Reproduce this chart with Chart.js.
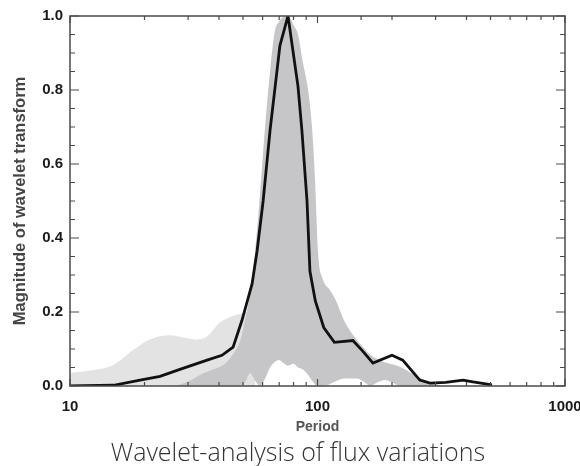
<!DOCTYPE html>
<html>
<head>
<meta charset="utf-8">
<script src="https://cdn.jsdelivr.net/npm/chart.js@4.4.1/dist/chart.umd.min.js"></script>
<style>
  html, body { margin: 0; padding: 0; background: #fff; overflow: hidden; }
  #wrap { position: relative; width: 580px; height: 466px; }
  #title {
    position: absolute; left: 0; top: 439px; width: 596px;
    text-align: center; font-family: "Open Sans", sans-serif; font-weight: 300;
    font-size: 25px; line-height: 25px; color: #333; white-space: nowrap;
  }
</style>
</head>
<body>
<div id="wrap">
  <canvas id="chart" width="580" height="466"></canvas>
  <div id="title">Wavelet-analysis of flux variations</div>
</div>
<script>
// black curve: global wavelet magnitude
const linePeriod = [10, 15, 19.2, 23.1, 27.8, 35.8, 41.1, 45.6, 49.5, 54.4, 57, 60.3, 64.3, 70.5, 76,
  83.4, 86.5, 90.7, 93.2, 98, 106, 117, 139, 152, 167.5, 200, 221, 259, 285, 330, 387, 425, 507];
const lineMagnitude = [0, 0.002, 0.016, 0.026, 0.045, 0.07, 0.083, 0.105, 0.177, 0.276, 0.365, 0.5, 0.69, 0.92, 1.0,
  0.81, 0.69, 0.5, 0.31, 0.23, 0.158, 0.118, 0.123, 0.095, 0.062, 0.083, 0.07, 0.016, 0.008, 0.01, 0.016, 0.011, 0.003];

// dark grey envelope (upper and lower edge)
const bandPeriod = [26.6, 30, 33.5, 38, 42.3, 46, 48.6, 51, 53.4, 55.9, 58.6, 61.4, 64.3, 67.3, 70, 71.9, 76, 80,
  83.4, 87, 91.6, 95, 97.7, 100.5, 105, 112, 117.9, 128.5, 144, 155, 163, 175, 187, 202, 215, 230, 252, 275, 293, 320];
const bandHigh = [0, 0.012, 0.03, 0.045, 0.06, 0.09, 0.12, 0.18, 0.25, 0.36, 0.52, 0.7, 0.85, 0.96, 0.985, 0.995, 1.0, 0.975,
  0.95, 0.88, 0.8, 0.7, 0.56, 0.36, 0.29, 0.26, 0.235, 0.175, 0.125, 0.1, 0.085, 0.072, 0.064, 0.058, 0.052, 0.042, 0.026, 0.014, 0.006, 0];
const bandLow = [0, 0, 0, 0, 0, 0, 0, 0.01, 0.035, 0.015, 0, 0.02, 0.05, 0.065, 0.07, 0.065, 0.055, 0.06,
  0.05, 0.045, 0.03, 0.015, 0.005, 0, 0, 0.005, 0.012, 0.02, 0.02, 0.01, 0, 0.01, 0.016, 0.008, 0, 0, 0, 0, 0, 0];

// light grey hump on the short-period side
const lightPeriod = [10, 12.4, 14.9, 18, 21, 25.4, 28.6, 32.6, 35.8, 40.4, 45.6, 49.5, 52, 55.9];
const lightHigh = [0.035, 0.043, 0.056, 0.097, 0.126, 0.137, 0.131, 0.126, 0.134, 0.172, 0.19, 0.196, 0.2, 0.2];

const xLabels = [10, 100, 1000];
const yLabels = [0, 0.2, 0.4, 0.6, 0.8, 1.0];

const pts = (xs, ys) => xs.map((v, i) => ({ x: v, y: ys[i] }));
const isDecade = v => Math.abs(Math.log10(v) - Math.round(Math.log10(v))) < 1e-6;
const isMajorY = v => yLabels.some(l => Math.abs(l - v) < 1e-6);

// box with inward ticks on all four sides
const frameTicks = {
  id: 'frameTicks',
  afterDatasetsDraw(chart) {
    const { ctx, chartArea: a, scales: { x, y } } = chart;
    ctx.save();
    ctx.strokeStyle = '#4a4a4a';
    ctx.lineWidth = 1.5;
    ctx.strokeRect(a.left, a.top, a.right - a.left, a.bottom - a.top);
    ctx.lineWidth = 1.2;
    ctx.beginPath();
    x.ticks.forEach(t => {
      const px = x.getPixelForValue(t.value);
      const len = isDecade(t.value) ? 7 : 4;
      ctx.moveTo(px, a.bottom); ctx.lineTo(px, a.bottom - len);
      ctx.moveTo(px, a.top); ctx.lineTo(px, a.top + len);
    });
    y.ticks.forEach(t => {
      const py = y.getPixelForValue(t.value);
      const len = isMajorY(t.value) ? 9 : 5;
      ctx.moveTo(a.left, py); ctx.lineTo(a.left + len, py);
      ctx.moveTo(a.right, py); ctx.lineTo(a.right - len, py);
    });
    ctx.stroke();
    ctx.restore();
  }
};

const labelFont = { family: 'Liberation Sans, Arial, sans-serif', size: 15, weight: 'bold' };

new Chart(document.getElementById('chart'), {
  type: 'line',
  data: {
    datasets: [
      {
        label: 'global',
        data: pts(linePeriod, lineMagnitude),
        borderColor: '#111',
        borderWidth: 2.8,
        pointRadius: 0,
        fill: false,
        order: 0
      },
      {
        label: 'band high',
        data: pts(bandPeriod, bandHigh),
        borderWidth: 0,
        borderColor: 'rgba(0,0,0,0)',
        backgroundColor: '#c6c6c8',
        pointRadius: 0,
        cubicInterpolationMode: 'monotone',
        fill: 2,
        order: 1
      },
      {
        label: 'band low',
        data: pts(bandPeriod, bandLow),
        borderWidth: 0,
        borderColor: 'rgba(0,0,0,0)',
        pointRadius: 0,
        cubicInterpolationMode: 'monotone',
        fill: false,
        order: 1
      },
      {
        label: 'light',
        data: pts(lightPeriod, lightHigh),
        borderWidth: 0,
        borderColor: 'rgba(0,0,0,0)',
        backgroundColor: '#e3e3e3',
        pointRadius: 0,
        cubicInterpolationMode: 'monotone',
        fill: 'origin',
        order: 2
      }
    ]
  },
  options: {
    responsive: false,
    animation: false,
    devicePixelRatio: 1,
    layout: { padding: { top: 13, right: 15, left: 0, bottom: 0 } },
    plugins: {
      legend: { display: false },
      tooltip: { enabled: false },
      title: { display: false }
    },
    scales: {
      x: {
        type: 'logarithmic',
        min: 10,
        max: 1000,
        grid: { display: false, drawTicks: false },
        border: { display: false },
        ticks: {
          autoSkip: false,
          maxRotation: 0,
          padding: 12,
          color: '#1a1a1a',
          font: labelFont,
          callback: v => (xLabels.some(l => Math.abs(l - v) < 1e-6) ? String(Math.round(v)) : '')
        },
        title: {
          display: true,
          text: 'Period',
          color: '#555',
          font: { family: 'Liberation Sans, Arial, sans-serif', size: 14, weight: 'bold' },
          padding: { top: 0, bottom: 30 }
        },
        afterFit: s => { s.height = 80; s.paddingRight = 0; s.paddingLeft = 0; }
      },
      y: {
        min: 0,
        max: 1,
        grid: { display: false, drawTicks: false },
        border: { display: false },
        ticks: {
          stepSize: 0.05,
          autoSkip: false,
          padding: 7,
          color: '#1a1a1a',
          font: labelFont,
          callback: v => (isMajorY(v) ? (Math.round(v * 10) / 10).toFixed(1) : '')
        },
        title: {
          display: true,
          text: 'Magnitude of wavelet transform',
          color: '#444',
          font: { family: 'Liberation Sans, Arial, sans-serif', size: 16.5, weight: 'bold' },
          padding: { top: 11, bottom: 0 }
        },
        afterFit: s => { s.width = 70; }
      }
    }
  },
  plugins: [frameTicks]
});
</script>
</body>
</html>
